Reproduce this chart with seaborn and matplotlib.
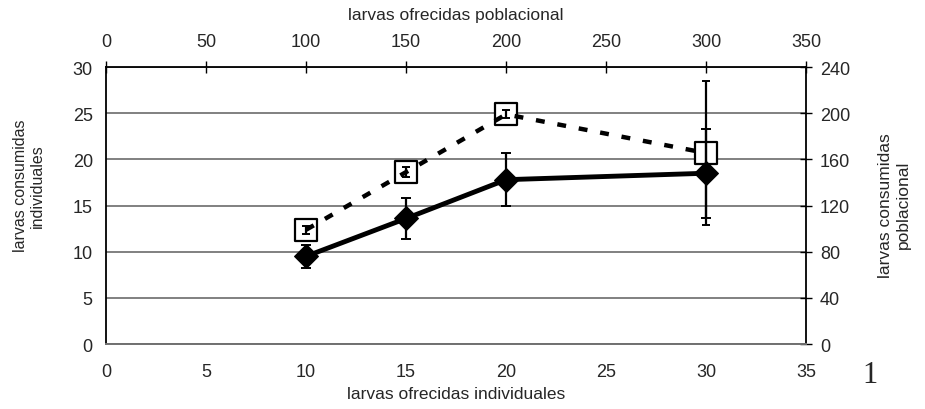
import numpy as np
import pandas as pd
import matplotlib
matplotlib.use("Agg")
import matplotlib.pyplot as plt
import seaborn as sns

sns.set_theme(style="white")
plt.rcParams['font.family'] = ['Liberation Sans', 'DejaVu Sans']

# individual trials (bottom / left axes)
ind_offered = [10, 15, 20, 30]
ind_consumed = [9.5, 13.6, 17.8, 18.5]
ind_err = [1.25, 2.2, 2.9, 4.8]

# population trials (top / right axes)
pop_offered = [100, 150, 200, 300]
pop_consumed = [99, 149, 199, 165.5]
pop_err = [3.5, 4, 3.5, 62.5]

ind_df = pd.DataFrame({'ofrecidas': ind_offered, 'consumidas': ind_consumed})
pop_df = pd.DataFrame({'ofrecidas': pop_offered, 'consumidas': pop_consumed})

fig = plt.figure(figsize=(9.25, 4.1), dpi=100)
rect = [0.1146, 0.1585, 0.757, 0.6755]

# population axes (behind), owns the top and right axis plus the gridlines
ax_pop = fig.add_axes(rect)
ax_pop.set_facecolor('white')
ax_pop.set_xlim(0, 350)
ax_pop.set_ylim(0, 240)
ax_pop.set_xticks(np.arange(0, 351, 50))
ax_pop.set_yticks(np.arange(0, 241, 40))
ax_pop.xaxis.tick_top()
ax_pop.yaxis.tick_right()
ax_pop.xaxis.set_label_position('top')
ax_pop.yaxis.set_label_position('right')
ax_pop.yaxis.grid(True, color='#808080', linewidth=1.4)
ax_pop.set_axisbelow(True)
for s in ['left', 'bottom']:
    ax_pop.spines[s].set_visible(False)
for s in ['top', 'right']:
    ax_pop.spines[s].set_color('black')
    ax_pop.spines[s].set_linewidth(1.3)
ax_pop.tick_params(axis='both', direction='inout', length=8, width=1,
                   color='black', labelsize=13)
ax_pop.tick_params(axis='x', pad=8.5)
ax_pop.tick_params(axis='y', pad=6)

sns.scatterplot(data=pop_df, x='ofrecidas', y='consumidas', ax=ax_pop,
                marker='s', s=16.5 ** 2, color='white', edgecolor='black',
                linewidth=1.6, zorder=3, legend=False)
sns.lineplot(data=pop_df, x='ofrecidas', y='consumidas', ax=ax_pop,
             color='black', linewidth=3.2, dashes=(2.0, 2.9), zorder=4)
ax_pop.errorbar(pop_offered, pop_consumed, yerr=pop_err, fmt='none',
                ecolor='black', elinewidth=1.6, capsize=3, capthick=1.4,
                zorder=5)
ax_pop.set_xlabel('larvas ofrecidas poblacional', fontsize=12.5, va='center')
ax_pop.xaxis.set_label_coords(0.5, 1.19)
ax_pop.set_ylabel('larvas consumidas\npoblacional', fontsize=12.5,
                  va='center', rotation=90)
ax_pop.yaxis.set_label_coords(1.126, 0.505)

# individual axes (in front), transparent
ax = fig.add_axes(rect)
ax.patch.set_alpha(0)
ax.set_xlim(0, 35)
ax.set_ylim(0, 30)
ax.set_xticks(np.arange(0, 36, 5))
ax.set_yticks(np.arange(0, 31, 5))
for s in ['top', 'right']:
    ax.spines[s].set_visible(False)
ax.spines['left'].set_color('black')
ax.spines['left'].set_linewidth(1.3)
ax.spines['bottom'].set_color('#707070')
ax.spines['bottom'].set_linewidth(1.4)
ax.tick_params(axis='y', direction='inout', length=8, width=1,
               color='black', labelsize=13, pad=5.5)
ax.tick_params(axis='x', direction='out', length=5, width=1,
               color='black', labelsize=13, pad=9)

ax.errorbar(ind_offered, ind_consumed, yerr=ind_err, fmt='none',
            ecolor='black', elinewidth=1.6, capsize=3.6, capthick=1.4,
            zorder=2)
sns.lineplot(data=ind_df, x='ofrecidas', y='consumidas', ax=ax,
             color='black', linewidth=3.5, marker='D', markersize=12.5,
             markeredgecolor='black', markerfacecolor='black', zorder=3)
ax.set_xlabel('larvas ofrecidas individuales', fontsize=12.5, va='center')
ax.xaxis.set_label_coords(0.5, -0.18)
ax.set_ylabel('larvas consumidas\nindividuales', fontsize=11.5, va='center')
ax.yaxis.set_label_coords(-0.11, 0.574)

fig.text(0.941, 0.085, '1', fontsize=22, family='Liberation Serif',
         ha='center', va='center')

fig.savefig('out.png', dpi=100)
